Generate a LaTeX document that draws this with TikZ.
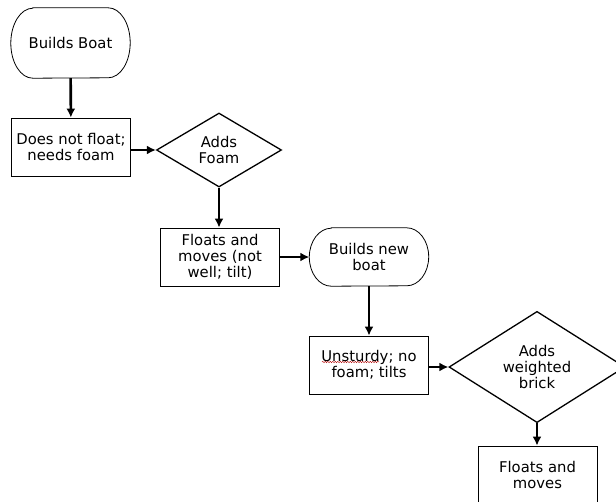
\documentclass[tikz,border=0pt]{standalone}
\usepackage{fontspec}
\setmainfont{DejaVu Sans}
\usetikzlibrary{shapes.geometric,arrows.meta,decorations.pathmorphing}
\tikzset{
box/.style={draw,line width=0.8pt,minimum width=119pt,minimum height=58pt,align=center,inner sep=0pt},
terminal/.style={minimum width=119pt,align=center,inner sep=0pt},
decision/.style={draw,diamond,line width=1.3pt,align=center,inner sep=0pt},
flow/.style={->,line width=2.6pt,>={Latex[length=9pt,width=9pt]}}
}
\begin{document}
\begin{tikzpicture}[x=1pt,y=-1pt,font=\fontsize{14.8}{15.7}\selectfont]
\useasboundingbox (0,0) rectangle (616,501);
\clip (0,0) rectangle (616,501);

\node[terminal,minimum height=70pt] (boat) at (70.5,43) {Builds Boat};
\node[box] (sink) at (71,147) {Does not float;\\needs foam};
\node[decision,minimum width=125pt,minimum height=74pt] (foam) at (219,150) {Adds\\Foam};
\node[box] (tilt) at (220,257) {Floats and\\moves (not\\well; tilt)};
\node[terminal,minimum height=58pt] (newboat) at (369,257) {Builds new\\boat};
\node[box] (unst) at (369,365) {Unsturdy; no\\foam; tilts};
\node[decision,minimum width=176pt,minimum height=106pt] (brick) at (537,367) {Adds\\weighted\\brick};
\node[box] (moves) at (537.5,475) {Floats and\\moves};

\foreach \t/\r in {boat/35pt,newboat/29pt}{
\draw[line width=0.8pt] ([xshift=22pt]\t.north west) -- ([xshift=-22pt]\t.north east)
  arc[start angle=90,end angle=-90,x radius=22pt,y radius=\r]
  -- ([xshift=22pt]\t.south west)
  arc[start angle=270,end angle=90,x radius=22pt,y radius=\r] -- cycle;
}

\draw[red!70!black,decorate,decoration={snake,amplitude=0.7pt,segment length=2.5pt}] ([xshift=-47pt,yshift=3pt]unst.center) -- ([xshift=10pt,yshift=3pt]unst.center);

\draw[flow] (boat) -- (sink);
\draw[flow] (sink.east |- foam.west) -- (foam.west);
\draw[flow] (foam.south) -- (foam.south |- tilt.north);
\draw[flow] (tilt) -- (newboat);
\draw[flow] (newboat) -- (unst);
\draw[flow] (unst.east |- brick.west) -- (brick.west);
\draw[flow] (brick.south) -- (brick.south |- moves.north);
\end{tikzpicture}
\end{document}
